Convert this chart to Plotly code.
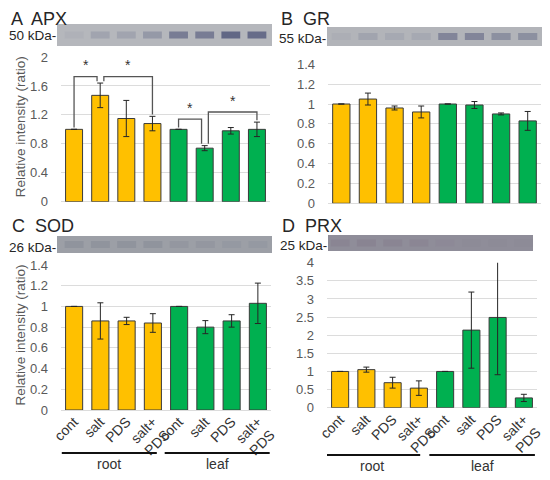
import plotly.graph_objects as go

# ---------------- data ----------------
CATEGORIES = ["cont", "salt", "PDS", "salt+<br>PDS", "cont", "salt", "PDS", "salt+<br>PDS"]
TISSUES = ["root", "leaf"]

APX_MEAN = [1.00, 1.47, 1.15, 1.08, 1.00, 0.74, 0.98, 1.00]
APX_ERR = [None, 0.17, 0.25, 0.10, None, 0.035, 0.045, 0.10]
GR_MEAN = [1.00, 1.05, 0.96, 0.92, 1.00, 0.99, 0.90, 0.83]
GR_ERR = [None, 0.06, 0.02, 0.06, None, 0.035, 0.01, 0.095]
SOD_MEAN = [1.00, 0.86, 0.86, 0.84, 1.00, 0.80, 0.86, 1.03]
SOD_ERR = [None, 0.175, 0.035, 0.09, None, 0.063, 0.06, 0.195]
PRX_MEAN = [1.00, 1.05, 0.69, 0.54, 1.00, 2.14, 2.49, 0.27]
PRX_ERR = [None, 0.07, 0.15, 0.20, None, 1.05, 1.58, 0.10]

# significance brackets for APX: (bar i, bar j, bracket level)
APX_SIG = [(0, 1, 1.73), (1, 3, 1.73), (4, 5, 1.14), (5, 7, 1.24)]

# western blot band intensity per lane (0..1)
APX_BAND = [0.05, 0.18, 0.18, 0.28, 0.55, 0.55, 0.75, 0.7]
GR_BAND = [0.05, 0.15, 0.1, 0.1, 0.45, 0.45, 0.35, 0.35]
SOD_BAND = [0.15, 0.15, 0.15, 0.15, 0.1, 0.1, 0.08, 0.08]
PRX_BAND = [0.12, 0.15, 0.12, 0.1, 0.05, 0.03, 0.03, 0.03]

# ---------------- layout helpers ----------------
# the page body has an 8px margin, so the figure starts at (8, 8) on screen
OFF = 8
W, H = 542, 472
def fx(p):
    return (p - OFF) / W
def fy(p):
    return 1 - (p - OFF) / H

YELLOW = "#FFC000"
GREEN = "#00B050"
BAR_COLORS = [YELLOW] * 4 + [GREEN] * 4
FONT = "Liberation Sans, Arial, sans-serif"
TXT = "#262626"
TICK = "#595959"

panels = [
    dict(title="A  APX", kda="50 kDa-", mean=APX_MEAN, err=APX_ERR, band=APX_BAND,
         yrange=[0, 2.0], dtick=0.4, xdom=(61, 270), ydom=(57, 201.7),
         tpos=(10, None), kda_y=36, blot=(57, 272, 24, 46), blot_bg="#b5b7bc",
         band_rgb=(70, 76, 115), ylab=True, xlab=False, groups=None),
    dict(title="B  GR", kda="55 kDa-", mean=GR_MEAN, err=GR_ERR, band=GR_BAND,
         yrange=[0, 1.4], dtick=0.2, xdom=(328, 541), ydom=(64.3, 203.3),
         tpos=(280, None), kda_y=38, blot=(327, 542, 27, 46), blot_bg="#b2b4b9",
         band_rgb=(70, 76, 115), ylab=False, xlab=False, groups=None),
    dict(title="C  SOD", kda="26 kDa-", mean=SOD_MEAN, err=SOD_ERR, band=SOD_BAND,
         yrange=[0, 1.4], dtick=0.2, xdom=(61, 271), ydom=(265, 410),
         tpos=(10, 226), kda_y=247, blot=(57, 272, 236, 253), blot_bg="#9c9fa6",
         band_rgb=(80, 84, 110), ylab=True, xlab=True,
         groups=[(-0.47, 3.15), (3.45, 7.45)], line_y=453, lab_y=463.5),
    dict(title="D  PRX", kda="25 kDa-", mean=PRX_MEAN, err=PRX_ERR, band=PRX_BAND,
         yrange=[0, 4.0], dtick=0.5, xdom=(327, 537), ydom=(262.7, 407.7),
         tpos=(280, 226.5), kda_y=245.5, blot=(328, 533, 235, 251), blot_bg="#8f8d99",
         band_rgb=(110, 80, 110), ylab=False, xlab=True,
         groups=[(-0.6, 3.05), (3.4, 7.42)], line_y=455, lab_y=465.5),
]

fig = go.Figure()
shapes = []
annotations = []
x_idx = list(range(len(CATEGORIES)))

for k, p in enumerate(panels, start=1):
    sfx = "" if k == 1 else str(k)
    xa, ya = "x" + sfx, "y" + sfx
    fig.add_trace(go.Bar(
        x=x_idx, y=p["mean"], xaxis=xa, yaxis=ya,
        marker=dict(color=BAR_COLORS, line=dict(color="#3a3a3a", width=1)),
        error_y=dict(type="data", array=p["err"], color="#262626", thickness=1, width=3),
        showlegend=False, hoverinfo="y",
    ))
    xdom = [fx(p["xdom"][0]), fx(p["xdom"][1])]
    ydom = [fy(p["ydom"][1]), fy(p["ydom"][0])]
    fig.update_layout(**{
        "xaxis" + sfx: dict(
            domain=xdom, anchor=ya, range=[-0.5, len(CATEGORIES) - 0.5],
            tickvals=x_idx, ticktext=CATEGORIES, showticklabels=p["xlab"],
            tickangle=-45, tickfont=dict(size=14, color="#333333", family=FONT),
            showgrid=False, zeroline=False, showline=False, ticks="",
            automargin=False, fixedrange=True),
        "yaxis" + sfx: dict(
            domain=ydom, anchor=xa, range=p["yrange"], dtick=p["dtick"], tick0=0,
            gridcolor="#dcdcdc", gridwidth=1, zeroline=True, zerolinecolor="#dcdcdc",
            zerolinewidth=1, showline=False, ticks="", ticklabelstandoff=12,
            automargin=False,
            tickfont=dict(size=13, color=TICK, family=FONT), fixedrange=True),
    })
    tx, ty = p["tpos"]
    if ty is None:
        # top row titles: pin the text box to the top of the figure
        annotations.append(dict(text=p["title"], xref="paper", yref="paper",
                                x=fx(tx), y=1.0, xanchor="left", yanchor="top",
                                borderpad=0, showarrow=False,
                                font=dict(size=18, color=TXT, family=FONT)))
    else:
        annotations.append(dict(text=p["title"], xref="paper", yref="paper",
                                x=fx(tx), y=fy(ty), xanchor="left", yanchor="middle",
                                showarrow=False,
                                font=dict(size=18, color=TXT, family=FONT)))
    annotations.append(dict(text=p["kda"], xref="paper", yref="paper",
                            x=fx(p["blot"][0] + 1), y=fy(p["kda_y"]), xanchor="right",
                            yanchor="middle", showarrow=False,
                            font=dict(size=13.5, color=TXT, family=FONT)))
    bx0, bx1, by0, by1 = p["blot"]
    shapes.append(dict(type="rect", xref="paper", yref="paper",
                       x0=fx(bx0), x1=fx(bx1), y0=fy(by1), y1=fy(by0),
                       fillcolor=p["blot_bg"], line=dict(width=0), layer="above"))
    ymid = (by0 + by1) / 2
    r, g, b = p["band_rgb"]
    for i, a in enumerate(p["band"]):
        shapes.append(dict(type="rect", xref=xa, yref="paper",
                           x0=i - 0.36, x1=i + 0.36, y0=fy(ymid + 3.5), y1=fy(ymid - 3.5),
                           fillcolor=f"rgba({r},{g},{b},{a})", line=dict(width=0),
                           layer="above"))
    if p["ylab"]:
        annotations.append(dict(text="Relative intensity (ratio)", xref="paper", yref="paper",
                                x=fx(20), y=fy((p["ydom"][0] + p["ydom"][1]) / 2 - 2),
                                textangle=-90, xanchor="center", yanchor="middle",
                                showarrow=False,
                                font=dict(size=13.5, color=TICK, family=FONT)))
    if p["xlab"]:
        for (g0, g1), name in zip(p["groups"], TISSUES):
            shapes.append(dict(type="line", xref=xa, yref="paper",
                               x0=g0, x1=g1, y0=fy(p["line_y"]), y1=fy(p["line_y"]),
                               line=dict(color="#111111", width=2)))
            annotations.append(dict(text=name, xref=xa, yref="paper",
                                    x=(g0 + g1) / 2, y=fy(p["lab_y"]), xanchor="center",
                                    yanchor="middle", showarrow=False,
                                    font=dict(size=14, color="#333333", family=FONT)))

# significance brackets on panel A
def top_of(i):
    e = APX_ERR[i] or 0
    return APX_MEAN[i] + e + 0.025

starts = [s[0] for s in APX_SIG]
ends = [s[1] for s in APX_SIG]
for i, j, lvl in APX_SIG:
    xi = i + (0.14 if i in ends else 0)
    xj = j - (0.12 if j in starts else 0)
    path = f"M {xi},{top_of(i)} L {xi},{lvl} L {xj},{lvl} L {xj},{top_of(j)}"
    shapes.append(dict(type="path", xref="x", yref="y", path=path,
                       line=dict(color="#555555", width=1.3)))
    annotations.append(dict(text="*", xref="x", yref="y", x=(xi + xj) / 2, y=lvl + 0.02,
                            xanchor="center", yanchor="bottom", showarrow=False,
                            font=dict(size=14, color="#333333", family=FONT)))

fig.update_layout(
    width=W, height=H, margin=dict(l=0, r=0, t=0, b=0, pad=0),
    paper_bgcolor="white", plot_bgcolor="white",
    bargap=0.35, showlegend=False,
    shapes=shapes, annotations=annotations,
    font=dict(family=FONT),
)

fig.write_html("out.html")
